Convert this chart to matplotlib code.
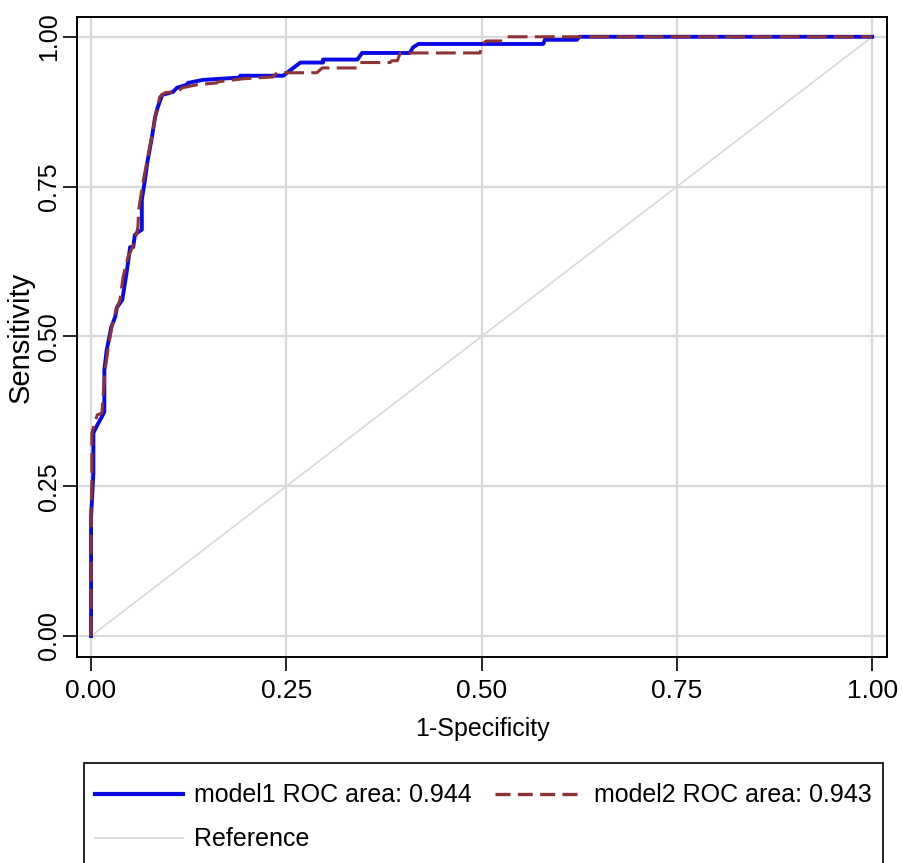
import matplotlib
matplotlib.use("Agg")
import matplotlib.pyplot as plt
from matplotlib.lines import Line2D
from matplotlib.patches import Rectangle

# ROC points (1-specificity, sensitivity)
model1_fpr = [0.000, 0.000, 0.003, 0.003, 0.008, 0.013, 0.017, 0.017, 0.020, 0.026,
              0.031, 0.033, 0.040, 0.044, 0.046, 0.050, 0.054, 0.056, 0.060, 0.065,
              0.065, 0.069, 0.072, 0.078, 0.082, 0.085, 0.091, 0.105, 0.110, 0.123,
              0.124, 0.143, 0.191, 0.191, 0.246, 0.259, 0.268, 0.297, 0.297, 0.341,
              0.347, 0.408, 0.412, 0.419, 0.579, 0.581, 0.622, 0.625, 1.000]
model1_tpr = [0.000, 0.199, 0.272, 0.339, 0.352, 0.364, 0.374, 0.444, 0.477, 0.516,
              0.533, 0.548, 0.561, 0.594, 0.611, 0.649, 0.649, 0.669, 0.674, 0.678,
              0.728, 0.761, 0.790, 0.833, 0.866, 0.881, 0.903, 0.908, 0.915, 0.920,
              0.923, 0.928, 0.932, 0.935, 0.935, 0.948, 0.957, 0.957, 0.962, 0.962,
              0.973, 0.973, 0.982, 0.988, 0.988, 0.995, 0.995, 1.000, 1.000]

model2_fpr = [0.000, 0.000, 0.001, 0.001, 0.008, 0.014, 0.015, 0.018, 0.022, 0.027,
              0.032, 0.037, 0.041, 0.047, 0.056, 0.060, 0.061, 0.065, 0.067, 0.072,
              0.077, 0.082, 0.088, 0.095, 0.110, 0.117, 0.136, 0.161, 0.163, 0.195,
              0.233, 0.238, 0.289, 0.296, 0.341, 0.344, 0.383, 0.385, 0.392, 0.396,
              0.498, 0.501, 0.506, 0.528, 0.533, 1.000]
model2_tpr = [0.000, 0.215, 0.249, 0.339, 0.369, 0.372, 0.394, 0.444, 0.481, 0.519,
              0.544, 0.561, 0.599, 0.631, 0.658, 0.683, 0.711, 0.745, 0.761, 0.795,
              0.828, 0.865, 0.900, 0.907, 0.908, 0.915, 0.920, 0.923, 0.925, 0.930,
              0.933, 0.940, 0.940, 0.948, 0.948, 0.957, 0.957, 0.960, 0.960, 0.973,
              0.973, 0.988, 0.993, 0.993, 1.000, 1.000]

ref_line = [0.0, 1.0]
ticks = [0.0, 0.25, 0.50, 0.75, 1.0]
tick_labels = ["0.00", "0.25", "0.50", "0.75", "1.00"]
labels = ["model1 ROC area: 0.944", "model2 ROC area: 0.943", "Reference"]

FONT = ["Liberation Sans", "DejaVu Sans"]

blue = "#0a0ae6"
maroon = "#8e3236"
grey = "#d9d9d9"


def main():
    fig = plt.figure(figsize=(9.03, 8.63), dpi=100)
    ax = fig.add_axes([77 / 903, 1 - 657 / 863, 810 / 903, 640 / 863])

    ax.set_xlim(-0.018, 1.019)
    ax.set_ylim(-0.035, 1.033)

    ax.set_xticks(ticks)
    ax.set_yticks(ticks)
    ax.grid(True, color=grey, linewidth=1.6)
    ax.set_axisbelow(True)

    ax.plot(ref_line, ref_line, color=grey, linewidth=1.2, zorder=2)
    ax.plot(model1_fpr, model1_tpr, color=blue, linewidth=2.8, zorder=3)
    ax.plot(model2_fpr, model2_tpr, color=maroon, linewidth=2.2, zorder=4,
            linestyle=(0, (6.5, 2.4)))

    ax.set_xticklabels(tick_labels, family=FONT, fontsize=19)
    ax.set_yticklabels(tick_labels, family=FONT, fontsize=18,
                       rotation=90, va="center")
    ax.tick_params(axis="both", direction="out", length=10, width=1.2,
                   colors="black")
    ax.tick_params(axis="x", pad=6)
    ax.tick_params(axis="y", pad=1.5)

    ax.set_xlabel("1-Specificity", family=FONT, fontsize=18)
    ax.set_ylabel("Sensitivity", family=FONT, fontsize=21)
    ax.xaxis.set_label_coords(0.5, -0.093)
    ax.yaxis.set_label_coords(-0.052, 0.5)

    for sp in ax.spines.values():
        sp.set_linewidth(1.4)
        sp.set_color("black")

    # legend box runs off the bottom edge as in the original export
    box = Rectangle((84 / 903, -0.05), 799 / 903, 0.05 + 1 - 763 / 863,
                    transform=fig.transFigure, facecolor="white",
                    edgecolor="black", linewidth=1.2, clip_on=False)
    fig.patches.append(box)

    handles = [
        Line2D([], [], color=blue, linewidth=3.0),
        Line2D([], [], color=grey, linewidth=1.5),
        Line2D([], [], color=maroon, linewidth=2.4, linestyle=(0, (4.5, 2.2))),
    ]
    order = [labels[0], labels[2], labels[1]]
    fig.legend(handles, order, ncol=2, loc="upper left",
               bbox_to_anchor=(84 / 903, 0.0, 799 / 903, 1 - 772 / 863),
               mode="expand", prop={"family": FONT, "size": 18},
               handlelength=3.5, handletextpad=0.45, borderpad=0.45,
               labelspacing=0.8, borderaxespad=0.0, frameon=False)

    fig.savefig("out.png", dpi=100)
    plt.close(fig)


if __name__ == "__main__":
    main()
